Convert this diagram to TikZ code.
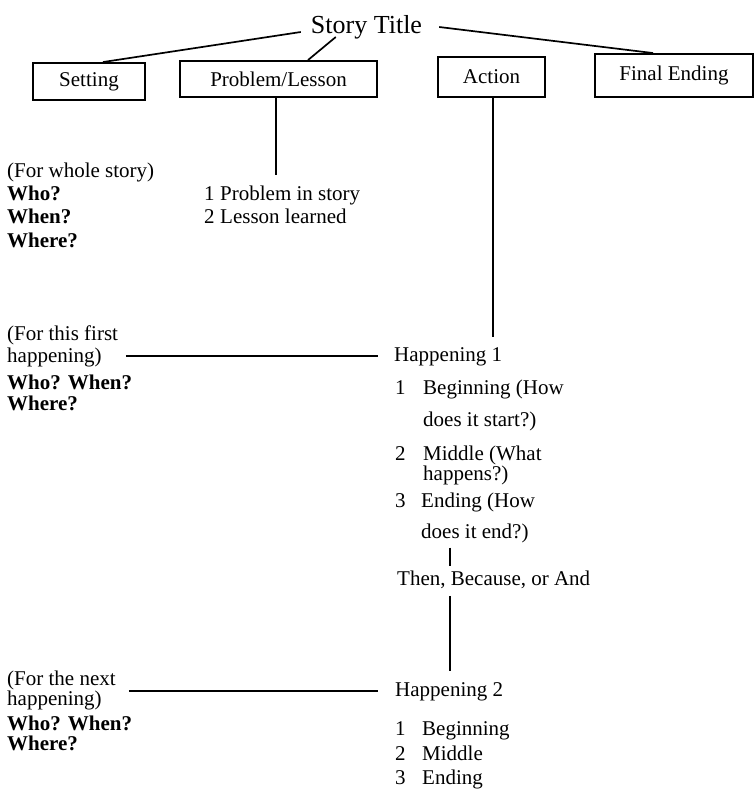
\documentclass[tikz,border=0pt]{standalone}
\usepackage{fontspec}
\setmainfont{Liberation Serif}
\begin{document}
\begin{tikzpicture}[x=1pt,y=-1pt,
  every node/.style={inner sep=0pt, font=\fontsize{21}{23}\selectfont},
  txt/.style={anchor=base west},
  askw/.style={anchor=base west, font=\fontsize{21}{23}\selectfont\bfseries},
  boxnode/.style={draw, line width=1.9pt, inner sep=0pt},
  link/.style={line width=1.7pt}]
\useasboundingbox (0,0) rectangle (755,793);

% title and the four headings
\node[anchor=base, font=\fontsize{26}{30}\selectfont] (title) at (366.5,33) {Story Title};
\node[boxnode, minimum width=112pt, minimum height=37pt] (set) at (89,81.5) {Setting};
\node[boxnode, minimum width=197pt, minimum height=36pt] (prob) at (278.5,79) {Problem/Lesson};
\node[boxnode, minimum width=107pt, minimum height=40pt] (act) at (491.5,77) {Action};
\node[boxnode, minimum width=158pt, minimum height=43pt] (fin) at (674,75.5) {Final Ending};

\draw[link] ([xshift=-10pt,yshift=1pt]title.base west) -- ([xshift=14pt]set.north);
\draw[link] ([xshift=25pt,yshift=-4pt]title.base west) -- ([xshift=29.5pt]prob.north);
\draw[link] ([xshift=17pt,yshift=6pt]title.base east) -- ([xshift=-21pt]fin.north);

% setting for the whole story
\node[txt] (ws) at (7,177) {(For whole story)};
\node[askw] (who0) at (7,200) {Who?};
\node[askw] (when0) at (7,223) {When?};
\node[askw] (where0) at (7,247) {Where?};

% problem and lesson
\node[txt] (pn1) at (204,200) {1};
\node[txt] (pl1) at (220,200) {Problem in story};
\node[txt] (pn2) at (204,223) {2};
\node[txt] (pl2) at (220,223) {Lesson learned};
\draw[link] ([xshift=-2.5pt]prob.south) -- ([xshift=-2.5pt,yshift=10pt]prob.south |- pl1.north);

% first happening
\node[txt] (fa) at (7,340) {(For this first};
\node[txt] (fb) at (7,362) {happening)};
\node[askw] (fw1) at (7,389) {Who? When?};
\node[askw] (fw2) at (7,410) {Where?};

\node[txt] (h1) at (394,361) {Happening 1};
\draw[link] ([xshift=1.5pt]act.south) -- ([xshift=1.5pt,yshift=10pt]act.south |- h1.north);
\draw[link] ([xshift=24pt]fb.east |- h1.west) -- ([xshift=-16pt]h1.west);

\node[txt] (a1n) at (395,394) {1};
\node[txt] (a1a) at (423,394) {Beginning (How};
\node[txt] (a1b) at (423,426) {does it start?)};
\node[txt] (a2n) at (395,460) {2};
\node[txt] (a2a) at (423,460) {Middle (What};
\node[txt] (a2b) at (423,480) {happens?)};
\node[txt] (a3n) at (395,507) {3};
\node[txt] (a3a) at (421,507) {Ending (How};
\node[txt] (a3b) at (421,538) {does it end?)};

\node[txt] (then) at (397,585) {Then, Because, or And};
\coordinate (col) at (450,0);
\draw[link, shorten <=5pt, shorten >=4pt] (col |- a3b.south) -- (col |- then.north);

% next happening
\node[txt] (na) at (7,685) {(For the next};
\node[txt] (nb) at (7,705) {happening)};
\node[askw] (nw1) at (7,730) {Who? When?};
\node[askw] (nw2) at (7,750) {Where?};

\node[txt] (h2) at (395,696) {Happening 2};
\draw[link, shorten <=7.5pt, shorten >=10.5pt] (col |- then.south) -- (col |- h2.north);
\draw[link] ([xshift=27pt]nb.east |- h2.west) -- ([xshift=-17pt]h2.west);

\node[txt] (b1n) at (395,735) {1};
\node[txt] (b1) at (422,735) {Beginning};
\node[txt] (b2n) at (395,760) {2};
\node[txt] (b2) at (422,760) {Middle};
\node[txt] (b3n) at (395,784) {3};
\node[txt] (b3) at (422,784) {Ending};
\end{tikzpicture}
\end{document}
